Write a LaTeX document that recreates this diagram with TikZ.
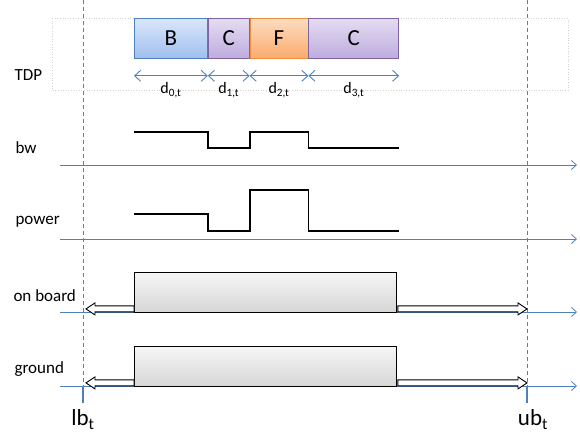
\documentclass[tikz,border=0pt]{standalone}
\usepackage{fontspec}
\setmainfont{Carlito}
\usetikzlibrary{arrows.meta,calc,positioning}
\definecolor{axisblue}{RGB}{79,129,189}
\definecolor{bline}{RGB}{79,129,189}
\definecolor{btop}{RGB}{218,230,250}
\definecolor{bbot}{RGB}{160,192,238}
\definecolor{cline}{RGB}{128,100,162}
\definecolor{ctop}{RGB}{228,220,242}
\definecolor{cbot}{RGB}{190,172,222}
\definecolor{fline}{RGB}{240,140,60}
\definecolor{ftop}{RGB}{253,220,192}
\definecolor{fbot}{RGB}{250,172,110}
\tikzstyle{axis}=[axisblue,line width=0.8pt,-{Straight Barb[length=5pt,width=9pt]}]
\tikzstyle{bound}=[axisblue,line width=1pt,dash pattern=on 4pt off 3pt]
\tikzstyle{tick}=[axisblue,line width=2.2pt]
\tikzstyle{slot}=[draw,line width=0.8pt,minimum height=40pt,inner sep=0pt,font=\fontsize{23}{23}\selectfont]
\tikzstyle{dur}=[axisblue,line width=0.9pt,{Straight Barb[length=6pt,width=11pt]}-{Straight Barb[length=6pt,width=11pt]}]
\tikzstyle{signal}=[line width=1.8pt]
\tikzstyle{activity}=[draw,line width=0.9pt,top color=gray!7,bottom color=gray!32,minimum width=262pt,minimum height=40pt,inner sep=0pt]
\tikzstyle{rowlabel}=[anchor=west,font=\fontsize{17}{17}\selectfont]
\tikzstyle{boundlabel}=[black,below=2pt,font=\fontsize{23}{23}\selectfont]
\newcommand{\dlabel}[1]{d\textsubscript{#1,t}}
\newcommand{\hollowarrow}[2]{
\draw[fill=white,line width=0.9pt,line join=miter] let \p1=(#1), \p2=(#2), \n1={(\x2>\x1) ? 1 : -1} in
	(\x1,\y1+3pt) -- (\x2-\n1*9pt,\y1+3pt) -- (\x2-\n1*9pt,\y1+6pt) -- (\x2,\y1)
	-- (\x2-\n1*9pt,\y1-6pt) -- (\x2-\n1*9pt,\y1-3pt) -- (\x1,\y1-3pt) -- cycle;
}

\begin{document}
\begin{tikzpicture}[x=1pt,y=-1pt]
	\useasboundingbox (0,0) rectangle (580,441);
	% TDP frame and slots
	\draw[gray!35,dotted,line width=0.6pt] (52,18) rectangle (568,90);
	\node[slot,anchor=north west,minimum width=73pt,top color=btop,bottom color=bbot,draw=bline] (tdpB) at (134,18) {B};
	\node[slot,right=0pt of tdpB,minimum width=41pt,top color=ctop,bottom color=cbot,draw=cline] (tdpC1) {C};
	\node[slot,right=0pt of tdpC1,minimum width=58pt,top color=ftop,bottom color=fbot,draw=fline] (tdpF) {F};
	\node[slot,right=0pt of tdpF,minimum width=90pt,top color=ctop,bottom color=cbot,draw=cline] (tdpC2) {C};
	\draw[dur] ($(tdpB.south west)+(0,17)$) -- ($(tdpB.south east)+(0,17)$) node[black,midway,below=3pt,font=\fontsize{16}{16}\selectfont] {\dlabel{0}};
	\draw[dur] ($(tdpC1.south west)+(0,17)$) -- ($(tdpC1.south east)+(0,17)$) node[black,midway,below=3pt,font=\fontsize{16}{16}\selectfont] {\dlabel{1}};
	\draw[dur] ($(tdpF.south west)+(0,17)$) -- ($(tdpF.south east)+(0,17)$) node[black,midway,below=3pt,font=\fontsize{16}{16}\selectfont] {\dlabel{2}};
	\draw[dur] ($(tdpC2.south west)+(0,17)$) -- ($(tdpC2.south east)+(0,17)$) node[black,midway,below=3pt,font=\fontsize{16}{16}\selectfont] {\dlabel{3}};
	% row labels
	\node[rowlabel] (lTDP) at (11,75) {TDP};
	\node[rowlabel] (lbw) at (12,148) {bw};
	\node[rowlabel] (lpow) at (12,222) {power};
	\node[rowlabel] (lonb) at (10,296) {on board};
	\node[rowlabel] (lgnd) at (11,369) {ground};
	% bounds
	\coordinate (lbtop) at (83,0);
	\coordinate (lbbot) at (83,386);
	\coordinate (ubtop) at (527,0);
	\coordinate (ubbot) at (527,386);
	\draw[bound] (lbtop) -- (lbbot);
	\draw[bound] (ubtop) -- (ubbot);
	\draw[tick] (lbbot) -- ++(0,17) node[boundlabel] (lb) {lb\textsubscript{t}};
	\draw[tick] (ubbot) -- ++(0,17) node[boundlabel,xshift=6pt] (ub) {ub\textsubscript{t}};
	% axes
	\foreach \y in {165,239,312,386}
		\draw[axis] (60,\y) -- (577,\y);
	% bw and power
	\draw[signal] (tdpB.west|-0,132) -| (tdpC1.west|-0,148) -| (tdpF.west|-0,132) -| (tdpC2.west|-0,148) -- (tdpC2.east|-0,148);
	\draw[signal] (tdpB.west|-0,214) -| (tdpC1.west|-0,231) -| (tdpF.west|-0,190) -| (tdpC2.west|-0,231) -- (tdpC2.east|-0,231);
	% on board and ground
	\node[activity,anchor=north west] (onb) at (134,272) {};
	\node[activity,anchor=north west] (gnd) at (134,346) {};
	\coordinate (onbL) at ($(lbbot|-onb.south)+(3,-4)$);
	\coordinate (onbR) at ($(ubbot|-onb.south)+(0,-4)$);
	\coordinate (gndL) at ($(lbbot)+(3,-4)$);
	\coordinate (gndR) at ($(ubbot)+(0,-4)$);
	\hollowarrow{$(onb.south west)+(0,-4)$}{onbL}
	\hollowarrow{$(onb.south east)+(1,-4)$}{onbR}
	\hollowarrow{$(gnd.south west)+(0,-4)$}{gndL}
	\hollowarrow{$(gnd.south east)+(1,-4)$}{gndR}
\end{tikzpicture}
\end{document}
